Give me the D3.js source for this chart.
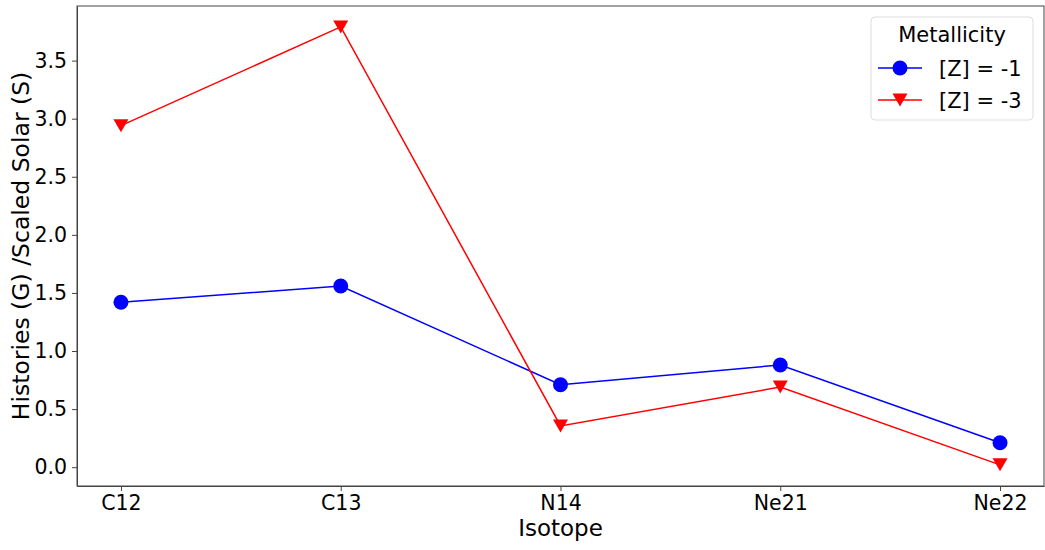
<!DOCTYPE html>
<html>
<head>
<meta charset="utf-8">
<script src="https://cdn.jsdelivr.net/npm/d3@7"></script>
<style>
  body { margin: 0; background: #fff; }
  text { font-family: "DejaVu Sans", sans-serif; fill: #000; }
  .axis path, .axis line { stroke: #444; }
</style>
</head>
<body>
<div id="chart"></div>
<script>
var isotopes = ["C12", "C13", "N14", "Ne21", "Ne22"];
var seriesNames = ["[Z] = -1", "[Z] = -3"];
var zMinus1 = [1.42, 1.56, 0.71, 0.88, 0.21];
var zMinus3 = [2.94, 3.79, 0.355, 0.69, 0.02];
var yTicks = [0.0, 0.5, 1.0, 1.5, 2.0, 2.5, 3.0, 3.5];

var width = 1045, height = 550;
var margins = { top: 6, right: 1, bottom: 64, left: 77 };
var chartWidth = width - margins.left - margins.right;
var chartHeight = height - margins.top - margins.bottom;

var series = [
  { name: seriesNames[0], values: zMinus1, color: "#0000ff", marker: "circle" },
  { name: seriesNames[1], values: zMinus3, color: "#ff0000", marker: "triangle" }
];

// x on category index, with matplotlib-style 5% margins
var xIdx = d3.scaleLinear().domain([-0.2, 4.2]).range([0, chartWidth]);

var yScale = d3.scaleLinear()
  .domain([-0.162, 3.97])
  .range([chartHeight, 0]);

var svg = d3.select("#chart").append("svg")
  .attr("width", width)
  .attr("height", height);

var g = svg.append("g")
  .attr("transform", `translate(${margins.left},${margins.top})`);

// axes
var xAxis = d3.axisBottom(xIdx)
  .tickValues(d3.range(isotopes.length))
  .tickFormat(i => isotopes[i])
  .tickSize(5)
  .tickSizeOuter(0)
  .tickPadding(4);

var yAxis = d3.axisLeft(yScale)
  .tickValues(yTicks)
  .tickFormat(d3.format(".1f"))
  .tickSize(5)
  .tickSizeOuter(0)
  .tickPadding(5);

g.append("g")
  .attr("class", "x axis")
  .attr("transform", `translate(0,${chartHeight})`)
  .call(xAxis)
  .selectAll("text")
  .style("font-size", "20.5px");

g.append("g")
  .attr("class", "y axis")
  .call(yAxis)
  .selectAll("text")
  .style("font-size", "20.5px");

// frame
g.append("rect")
  .attr("x", 0)
  .attr("y", 0)
  .attr("width", chartWidth)
  .attr("height", chartHeight)
  .attr("fill", "none")
  .attr("stroke", "#444")
  .attr("stroke-width", 1);

// lines
var line = d3.line()
  .x((d, i) => xIdx(i))
  .y(d => yScale(d));

g.append("g")
  .selectAll("path")
  .data(series)
  .enter()
  .append("path")
  .attr("fill", "none")
  .attr("stroke", d => d.color)
  .attr("stroke-width", 1.5)
  .attr("d", d => line(d.values));

var triangle = "M-7.5,-6.5L7.5,-6.5L0,6.5Z";

var drawMarker = function(sel, s) {
  if (s.marker === "circle") {
    sel.append("circle").attr("r", 7.5).attr("fill", s.color);
  } else {
    sel.append("path").attr("d", triangle).attr("fill", s.color);
  }
};

series.forEach(function(s) {
  s.values.forEach(function(v, i) {
    var m = g.append("g")
      .attr("transform", `translate(${xIdx(i)},${yScale(v)})`);
    drawMarker(m, s);
  });
});

// axis labels
svg.append("text")
  .attr("x", margins.left + chartWidth / 2)
  .attr("y", 536)
  .attr("text-anchor", "middle")
  .style("font-size", "23px")
  .text("Isotope");

svg.append("text")
  .attr("transform", `translate(29,${margins.top + chartHeight / 2}) rotate(-90)`)
  .attr("text-anchor", "middle")
  .style("font-size", "23.5px")
  .text("Histories (G) /Scaled Solar (S)");

// legend
var legend = svg.append("g").attr("transform", "translate(871,17)");

legend.append("rect")
  .attr("width", 162)
  .attr("height", 103)
  .attr("rx", 4)
  .attr("fill", "#fff")
  .attr("fill-opacity", 0.8)
  .attr("stroke", "#ddd");

legend.append("text")
  .attr("x", 81)
  .attr("y", 25)
  .attr("text-anchor", "middle")
  .style("font-size", "21px")
  .text("Metallicity");

series.forEach(function(s, i) {
  var y = 51 + i * 32;
  legend.append("line")
    .attr("x1", 7)
    .attr("x2", 51)
    .attr("y1", y)
    .attr("y2", y)
    .attr("stroke", s.color)
    .attr("stroke-width", 1.5);
  var m = legend.append("g").attr("transform", `translate(29,${y})`);
  drawMarker(m, s);
  legend.append("text")
    .attr("x", 68)
    .attr("y", y + 7.5)
    .style("font-size", "21px")
    .text(s.name);
});
</script>
</body>
</html>
